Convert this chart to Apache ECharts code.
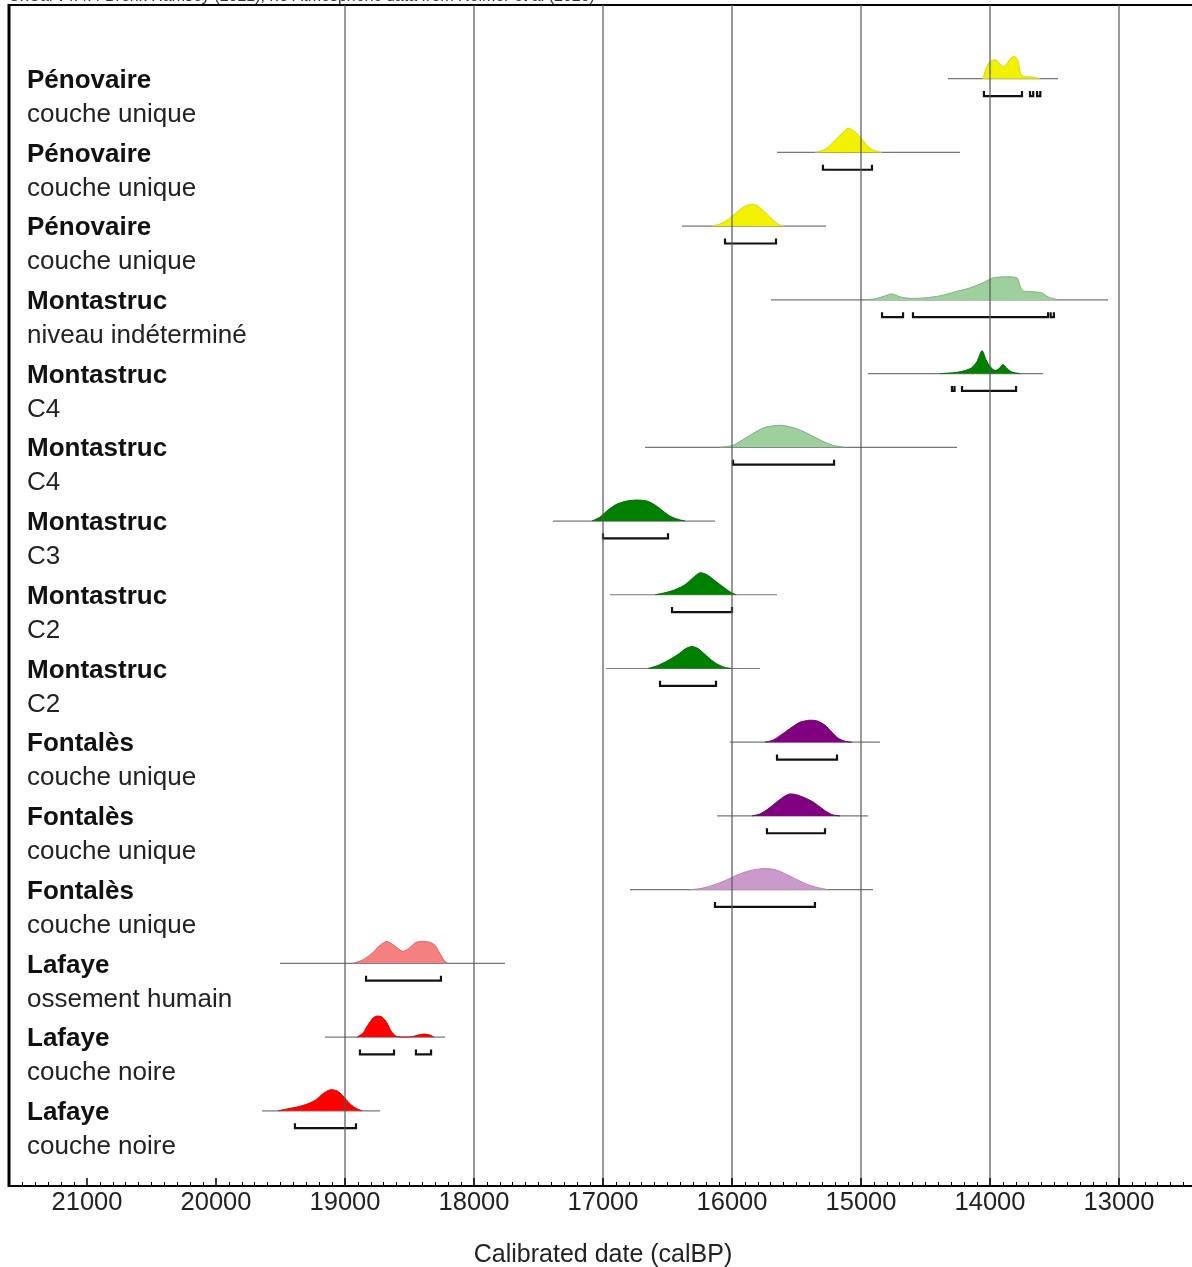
<!DOCTYPE html>
<html lang="fr">
<head>
    <meta charset="UTF-8">
    <title>OxCal - dates calibrées</title>
    <script src="https://cdn.jsdelivr.net/npm/echarts@6/dist/echarts.min.js"></script>
    <style>
        html, body { margin: 0; padding: 0; background: #fff; }
        #main { width: 1192px; height: 1267px; }
    </style>
</head>
<body>
<div id="main"></div>
<script type="text/javascript">
    // sites / niveaux, du haut vers le bas
    var siteNames = ['Pénovaire', 'Pénovaire', 'Pénovaire', 'Montastruc', 'Montastruc', 'Montastruc',
        'Montastruc', 'Montastruc', 'Montastruc', 'Fontalès', 'Fontalès', 'Fontalès',
        'Lafaye', 'Lafaye', 'Lafaye'];
    var layerNames = ['couche unique', 'couche unique', 'couche unique', 'niveau indéterminé', 'C4', 'C4',
        'C3', 'C2', 'C2', 'couche unique', 'couche unique', 'couche unique',
        'ossement humain', 'couche noire', 'couche noire'];

    // courbes de probabilité : [date calBP, hauteur relative]
    var penovaire1 = [[14054,0],[14031,10],[14000,17],[13961,19],[13930,16],[13899,12],[13868,15],[13837,21],[13806,22],[13783,18],[13760,4],[13721,2],[13659,1.5],[13612,0]];
    var penovaire2 = [[15357,0],[15279,3],[15202,12],[15140,20],[15101,24],[15047,21],[14992,13],[14946,6],[14899,2],[14837,0]];
    var penovaire3 = [[16155,0],[16078,3],[16016,8],[15953,15],[15899,20],[15845,22],[15798,20],[15744,14],[15698,8],[15643,2],[15597,0]];
    var montIndet = [[15008,0],[14891,1],[14814,4],[14760,6],[14698,3],[14620,1.5],[14504,2],[14388,4],[14271,8],[14155,12],[14039,18],[13977,22],[13884,23],[13791,22],[13767,14],[13744,9],[13651,8],[13597,7],[13550,3],[13473,0]];
    var montC4a = [[14388,0],[14271,1],[14194,3],[14140,6],[14101,12],[14062,23],[14031,14],[14000,7],[13961,3],[13930,5],[13899,9],[13868,5],[13829,1.5],[13767,0]];
    var montC4b = [[16093,0],[15992,2],[15899,9],[15822,15],[15744,20],[15628,22],[15535,20],[15450,16],[15372,11],[15295,6],[15217,2],[15124,0]];
    var montC3 = [[17085,0],[17023,4],[16961,11],[16891,17],[16814,20],[16736,21],[16659,20],[16597,16],[16535,10],[16481,5],[16426,2],[16364,0]];
    var montC2a = [[16597,0],[16519,2],[16442,5],[16364,10],[16302,17],[16248,22],[16194,20],[16132,14],[16070,8],[16016,3],[15969,0]];
    var montC2b = [[16651,0],[16574,3],[16496,8],[16419,14],[16357,20],[16310,22],[16264,20],[16209,14],[16155,8],[16109,4],[16054,1],[16000,0]];
    var fontales1 = [[15744,0],[15682,2],[15612,8],[15535,15],[15473,20],[15395,22],[15333,21],[15279,17],[15225,10],[15178,4],[15124,1],[15070,0]];
    var fontales2 = [[15845,0],[15783,2],[15721,7],[15643,15],[15589,20],[15550,22],[15496,21],[15434,18],[15372,14],[15318,9],[15264,4],[15217,1],[15163,0]];
    var fontales3 = [[16326,0],[16248,1],[16155,4],[16054,9],[15953,15],[15860,19],[15760,21],[15667,20],[15574,15],[15496,10],[15411,5],[15333,2],[15256,0]];
    var lafaye1 = [[18946,0],[18868,3],[18791,10],[18729,18],[18674,22],[18620,18],[18550,12],[18496,16],[18450,21],[18403,22],[18341,21],[18302,18],[18264,10],[18233,3],[18202,0]];
    var lafaye2 = [[18907,0],[18860,4],[18822,12],[18783,19],[18752,21],[18713,20],[18674,14],[18643,6],[18605,1],[18558,0],[18481,0.3],[18434,2],[18388,3],[18341,2],[18310,0]];
    var lafaye3 = [[19519,0],[19442,2],[19364,4],[19287,7],[19225,11],[19171,17],[19116,21],[19062,20],[19016,15],[18969,8],[18922,3],[18868,0]];
    var curves = [penovaire1, penovaire2, penovaire3, montIndet, montC4a, montC4b, montC3, montC2a, montC2b,
        fontales1, fontales2, fontales3, lafaye1, lafaye2, lafaye3];

    // étendue de la ligne de base de chaque date
    var spans = [[14326,13473],[15651,14233],[16388,15271],[15698,13085],[14946,13589],[16674,14256],
        [17388,16132],[16946,15651],[16977,15783],[16016,14853],[16116,14946],[16791,14907],
        [19504,17760],[19155,18225],[19643,18729]];

    // intervalles (crochets sous chaque courbe)
    var ranges = [
        [[14047,13752],[13690,13665],[13635,13610]],
        [[15295,14915]],
        [[16054,15659]],
        [[14837,14674],[14597,13550],[13530,13505]],
        [[14295,14275],[14217,13798]],
        [[15992,15209]],
        [[17000,16496]],
        [[16465,16000]],
        [[16558,16124]],
        [[15651,15186]],
        [[15729,15279]],
        [[16132,15357]],
        [[18837,18256]],
        [[18884,18620],[18450,18333]],
        [[19388,18915]]
    ];

    // lignes verticales de repère (pas sous la zone des étiquettes)
    var gridDates = [13000, 14000, 15000, 16000, 17000, 18000, 19000];

    var fills = ['#f2f200', '#f2f200', '#f2f200', '#9dd09d', '#008000', '#9dd09d', '#008000', '#008000', '#008000',
        '#800080', '#800080', '#cc99cc', '#f58080', '#ff0000', '#ff0000'];
    var strokes = ['#d8d800', '#d8d800', '#d8d800', '#7fae7f', '#006a00', '#7fae7f', '#006a00', '#006a00', '#006a00',
        '#6a006a', '#6a006a', '#b483b4', '#e06a6a', '#e00000', '#e00000'];

    var H_SCALE = 1 / 73.7;   // hauteur relative -> unités de ligne
    var BAR_OFFSET = 0.235;   // crochet sous la ligne de base

    var chartDom = document.getElementById('main');
    var myChart = echarts.init(chartDom);
    var font = '"Liberation Sans", Arial, sans-serif';

    var rowData = spans.map(function (s, i) { return [s[0], i + 1, i]; });
    var barData = [];
    ranges.forEach(function (list, i) {
        list.forEach(function (r) { barData.push([r[0], i + 1, r[1]]); });
    });

    var option = {
        animation: false,
        backgroundColor: '#fff',
        grid: {
            left: -42, right: -56, top: 5, bottom: 81,
            containLabel: false,
            outerBoundsMode: 'none',
            show: true, borderColor: '#000', borderWidth: 2, backgroundColor: 'transparent'
        },
        xAxis: {
            type: 'value',
            inverse: true,
            min: 12000,
            max: 22000,
            interval: 1000,
            z: 5,
            name: 'Calibrated date (calBP)',
            nameLocation: 'middle',
            nameGap: 57,
            nameTextStyle: { fontSize: 25, color: '#222', fontFamily: font },
            axisLine: { onZero: false, lineStyle: { color: '#000', width: 2 } },
            axisTick: { inside: true, length: 8, lineStyle: { color: '#000', width: 1.5 } },
            minorTick: { show: true, splitNumber: 10, length: 4, lineStyle: { color: '#000', width: 1 } },
            axisLabel: {
                fontSize: 25.5, color: '#222', margin: 4, fontFamily: font,
                showMinLabel: false, showMaxLabel: false,
                formatter: function (v) { return String(v); }
            },
            splitLine: { show: false }
        },
        yAxis: {
            type: 'value',
            inverse: true,
            min: 0,
            max: 16.02,
            show: false
        },
        graphic: [
            { type: 'rect', left: 0, top: 0, z: 100, shape: { width: 8, height: 1190 }, style: { fill: '#fff' } },
            { type: 'line', z: 101, shape: { x1: 9, y1: 4, x2: 9, y2: 1187 }, style: { stroke: '#000', lineWidth: 3 } },
            { type: 'text', left: 8, top: -11, z: 101,
              style: { text: 'OxCal v4.4.4 Bronk Ramsey (2021); r:5 Atmospheric data from Reimer et al (2020)',
                       fontSize: 16, fill: '#333', fontFamily: font } }
        ],
        series: [
            {
                type: 'custom',
                name: 'courbes',
                z: 2,
                data: rowData,
                renderItem: function (params, api) {
                    var i = api.value(2);
                    var row = api.value(1);
                    var pts = curves[i];
                    var poly = pts.map(function (p) { return api.coord([p[0], row - p[1] * H_SCALE]); });
                    var b0 = api.coord([spans[i][0], row]);
                    var b1 = api.coord([spans[i][1], row]);
                    return {
                        type: 'group',
                        children: [
                            { type: 'line', shape: { x1: b0[0], y1: b0[1], x2: b1[0], y2: b1[1] },
                              style: { stroke: '#777', lineWidth: 1.2 } },
                            { type: 'polyline', shape: { points: poly, smooth: 0.25 },
                              style: { fill: fills[i], stroke: strokes[i], lineWidth: 1 } }
                        ]
                    };
                }
            },
            {
                type: 'custom',
                name: 'intervalles',
                z: 3,
                data: barData,
                renderItem: function (params, api) {
                    var a = api.coord([api.value(0), api.value(1) + BAR_OFFSET]);
                    var b = api.coord([api.value(2), api.value(1) + BAR_OFFSET]);
                    return {
                        type: 'polyline',
                        shape: { points: [[a[0], a[1] - 5], [a[0], a[1]], [b[0], b[1]], [b[0], b[1] - 5]] },
                        style: { stroke: '#111', lineWidth: 2.2, fill: null }
                    };
                }
            },
            {
                type: 'custom',
                name: 'reperes',
                z: 4,
                data: gridDates.map(function (d) { return [d, 0]; }),
                renderItem: function (params, api) {
                    var top = api.coord([api.value(0), 0]);
                    var bottom = api.coord([api.value(0), 16.02]);
                    return {
                        type: 'line',
                        shape: { x1: top[0], y1: top[1], x2: bottom[0], y2: bottom[1] },
                        style: { stroke: '#555', lineWidth: 1.2 }
                    };
                }
            },
            {
                type: 'custom',
                name: 'etiquettes',
                z: 4,
                data: rowData,
                renderItem: function (params, api) {
                    var i = api.value(2);
                    var y = api.coord([20000, api.value(1)])[1];
                    return {
                        type: 'group',
                        children: [
                            { type: 'text', x: 27, y: y + 2,
                              style: { text: siteNames[i], fontSize: 26, fontWeight: 'bold', fill: '#111',
                                       fontFamily: font, verticalAlign: 'middle' } },
                            { type: 'text', x: 27, y: y + 36,
                              style: { text: layerNames[i], fontSize: 26, fill: '#222',
                                       fontFamily: font, verticalAlign: 'middle' } }
                        ]
                    };
                }
            }
        ]
    };

    myChart.setOption(option);
</script>
</body>
</html>
